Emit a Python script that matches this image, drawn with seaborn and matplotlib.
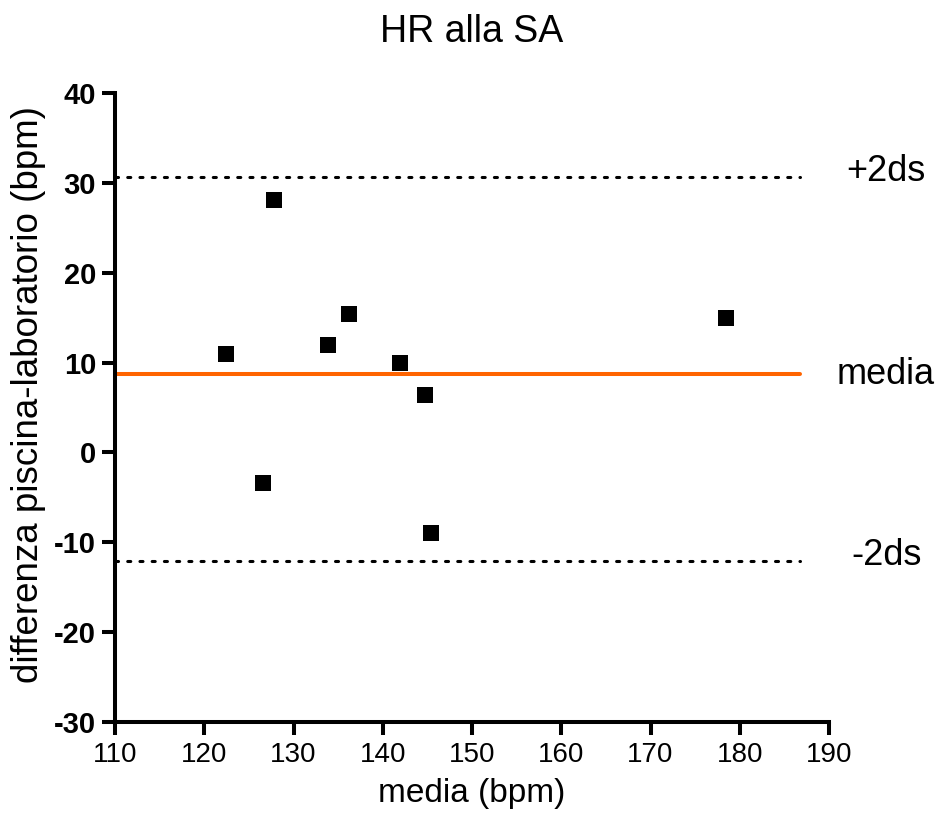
import numpy as np
import pandas as pd
import seaborn as sns
import matplotlib.pyplot as plt

# dati (Bland-Altman, HR alla SA)
media = [122.4, 127.8, 126.6, 133.9, 136.2, 141.9, 144.7, 145.4, 178.4]
differenza = [11.0, 28.1, -3.4, 12.0, 15.4, 10.0, 6.4, -9.0, 15.0]

linee_nomi = ["+2ds", "media", "-2ds"]
linee_valori = [30.6, 8.7, -12.1]
linee_x = [110, 186.7]

x_ticks = [110, 120, 130, 140, 150, 160, 170, 180, 190]
y_ticks = [-30, -20, -10, 0, 10, 20, 30, 40]

df = pd.DataFrame({"media": media, "differenza": differenza})

sns.set_style("ticks")
plt.rcParams["font.family"] = ["Liberation Sans", "DejaVu Sans"]
plt.rcParams["axes.unicode_minus"] = False
plt.rcParams["text.color"] = "black"
plt.rcParams["axes.labelcolor"] = "black"
plt.rcParams["xtick.color"] = "black"
plt.rcParams["ytick.color"] = "black"
plt.rcParams["axes.edgecolor"] = "black"

fig = plt.figure(figsize=(9.45, 8.22), dpi=100)
ax = fig.add_axes([0.1217, 0.1213, 0.7556, 0.7659])

# linee orizzontali (media e +/- 2 ds)
tratteggio = dict(color="black", lw=2.2, linestyle=(0, (1.0, 3.0)), dash_capstyle="round")
stili = {"+2ds": tratteggio,
         "media": dict(color="#FF6400", lw=2.9, linestyle="-"),
         "-2ds": tratteggio}
for nome, v in zip(linee_nomi, linee_valori):
    ax.plot(linee_x, [v, v], clip_on=False, zorder=2, **stili[nome])

sns.scatterplot(data=df, x="media", y="differenza", marker="s", s=120,
                color="black", linewidth=0, ax=ax, zorder=3, clip_on=False)

# etichette a destra
label_y = {"+2ds": 31.2, "media": 8.7, "-2ds": -11.5}
for nome in linee_nomi:
    ax.text(196.4, label_y[nome], nome, ha="center", va="center", fontsize=26, clip_on=False)

ax.set_xlim(110, 190)
ax.set_ylim(-30, 40)
ax.set_xticks(x_ticks)
ax.set_yticks(y_ticks)
ax.tick_params(direction="out", length=9.5, width=2.9, pad=4)
ax.tick_params(axis="x", labelsize=20, pad=4.5)
ax.tick_params(axis="y", labelsize=21)
for lab in ax.get_yticklabels():
    lab.set_fontweight("bold")

sns.despine(ax=ax)
for s in ["left", "bottom"]:
    ax.spines[s].set_linewidth(2.9)
    ax.spines[s].set_capstyle("projecting")

ax.set_xlabel("media (bpm)", fontsize=24)
ax.set_ylabel("differenza piscina-laboratorio (bpm)", fontsize=26.5)
ax.xaxis.set_label_coords(0.5, -0.088)
ax.yaxis.set_label_coords(-0.097, 0.52)

fig.text(0.4995, 0.9614, "HR alla SA", ha="center", va="center", fontsize=27)

fig.savefig("out.png", dpi=100)
